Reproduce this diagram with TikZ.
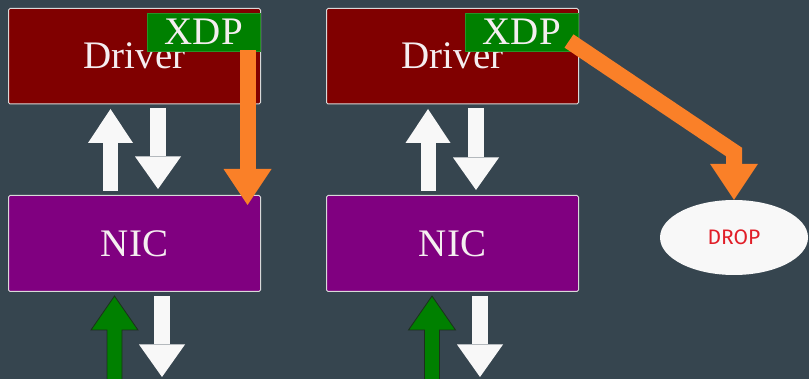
\documentclass[tikz,border=0pt]{standalone}
\usepackage{fontspec}
\setmainfont{Liberation Serif}
\newfontfamily\dropfont{Fira Sans}
\usetikzlibrary{arrows.meta,shapes.geometric}
\definecolor{bg}{RGB}{54,69,79}
\definecolor{drv}{RGB}{128,0,0}
\definecolor{nicc}{RGB}{128,0,128}
\definecolor{xdpc}{RGB}{0,128,0}
\definecolor{orng}{RGB}{250,128,40}
\definecolor{wht}{RGB}{248,248,248}
\definecolor{txtw}{RGB}{245,238,240}
\definecolor{dropred}{RGB}{225,30,40}
\definecolor{gedge}{RGB}{28,48,28}
\begin{document}
\begin{tikzpicture}[x=1pt,y=-1pt,
  box/.style={draw=white!85!black, line width=1pt, rounded corners=1.5pt, text=txtw,
    font=\fontsize{39}{40}\selectfont, inner sep=0pt},
  drvbox/.style={box, fill=drv, minimum width=252pt, minimum height=95.5pt},
  nicbox/.style={box, fill=nicc, minimum width=252pt, minimum height=96pt},
  xdpbox/.style={box, fill=xdpc, draw=xdpc!85!white, line width=0.6pt, rounded corners=0pt,
    minimum width=113.5pt, minimum height=38pt},
  uparrow/.style={draw=wht, line width=15pt, -{Triangle[length=34pt,width=45pt,line width=0pt]}},
  downarrow/.style={draw=wht, line width=15.5pt, -{Triangle[length=32.5pt,width=46pt,line width=0pt]}},
  orarrow/.style={draw=orng, line width=16pt, line join=miter, -{Triangle[length=36pt,width=48pt,line width=0pt]}},
  greenarrow/.style={fill=xdpc, draw=gedge, line width=0.8pt, line join=miter},
  dropnode/.style={ellipse, fill=wht, minimum width=148pt, minimum height=75pt, inner sep=0pt,
    text=dropred, font=\dropfont\fontsize{21}{23}\selectfont}
]
\useasboundingbox (0,0) rectangle (809,379);
\clip (0,0) rectangle (809,379);
\fill[bg] (0,0) rectangle (809,379);

% ---------- left panel ----------
\node[drvbox] (drvL) at (134.5,56.25) {Driver};
\node[xdpbox] (xdpL) at (203.75,32) {XDP};
\node[nicbox] (nicL) at (134.5,243.5) {NIC};

\coordinate (uLa) at (110.5,191);
\coordinate (uLb) at (110.5,109);
\draw[uparrow] (uLa) -- (uLb);
\coordinate (dLa) at (158,108);
\coordinate (dLb) at (158,189);
\draw[downarrow] (dLa) -- (dLb);

\coordinate (oLa) at (247.5,50);
\coordinate (oLb) at (247.5,205);
\draw[orarrow] (oLa) -- (oLb);

\coordinate (gLtip) at (114.5,296);
\draw[greenarrow] (gLtip) -- ++(23.5,34) -- ++(-16,0) -- ++(0,60) -- ++(-15,0)
  -- ++(0,-60) -- ++(-16,0) -- cycle;
\coordinate (dL2a) at (162,296);
\coordinate (dL2b) at (162,377);
\draw[downarrow] (dL2a) -- (dL2b);

% ---------- right panel ----------
\node[drvbox] (drvR) at (452.5,56.25) {Driver};
\node[xdpbox] (xdpR) at (521.75,32) {XDP};
\node[nicbox] (nicR) at (452.5,243.5) {NIC};

\coordinate (uRa) at (428,191);
\coordinate (uRb) at (428,109);
\draw[uparrow] (uRa) -- (uRb);
\coordinate (dRa) at (476,108);
\coordinate (dRb) at (476,190);
\draw[downarrow] (dRa) -- (dRb);

\node[dropnode] (drop) at (734,237.5) {DROP};
\coordinate (oRa) at (569,41);
\coordinate (oRm) at (drop.north |- 0,152);
\draw[orarrow] (oRa) -- (oRm) -- (drop.north);

\coordinate (gRtip) at (432,296);
\draw[greenarrow] (gRtip) -- ++(23.5,34) -- ++(-16,0) -- ++(0,60) -- ++(-15,0)
  -- ++(0,-60) -- ++(-16,0) -- cycle;
\coordinate (dR2a) at (480,296);
\coordinate (dR2b) at (480,377);
\draw[downarrow] (dR2a) -- (dR2b);
\end{tikzpicture}
\end{document}
